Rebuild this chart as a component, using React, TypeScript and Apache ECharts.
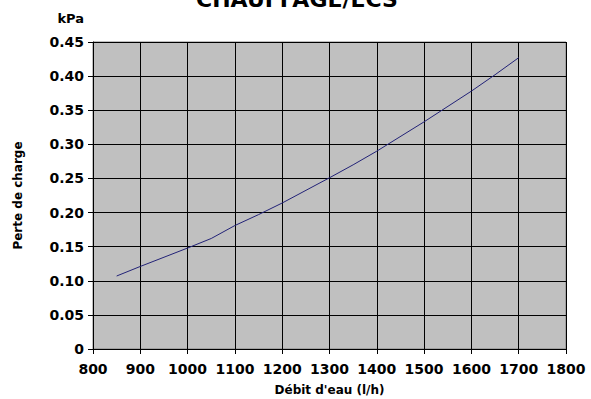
import React, { useEffect, useRef } from "react";
import * as echarts from "echarts";

const flowRates = [850, 900, 1000, 1050, 1100, 1150, 1200, 1300, 1350, 1400, 1500, 1600, 1650, 1700];
const pressureLoss = [0.107, 0.121, 0.148, 0.162, 0.181, 0.197, 0.214, 0.251, 0.27, 0.29, 0.333, 0.378, 0.402, 0.427];

const titleText = "CHAUFFAGE/ECS";
const xName = "Débit d'eau (l/h)";
const yName = "Perte de charge";
const unitLabel = "kPa";

const FONT = "DejaVu Sans";

export default function App() {
  const ref = useRef<HTMLDivElement>(null);
  useEffect(() => {
    if (!ref.current) return;
    const chart = echarts.init(ref.current, undefined, { renderer: "svg" });
    chart.setOption({
      animation: false,
      backgroundColor: "#ffffff",
      title: {
        text: titleText,
        left: 292,
        top: -17,
        textAlign: "center",
        textStyle: { fontFamily: FONT, fontSize: 22, fontWeight: "bold", color: "#000" },
      },
      graphic: [
        {
          type: "text",
          right: 591 - 84,
          top: 12,
          style: { text: unitLabel, font: `bold 13px ${FONT}`, fill: "#000" },
        },
      ],
      grid: {
        left: 93,
        top: 42,
        width: 473,
        height: 307,
        containLabel: false,
        outerBoundsMode: "none",
        show: true,
        backgroundColor: "#c0c0c0",
        borderColor: "#808080",
        borderWidth: 1,
      },
      xAxis: {
        type: "value",
        min: 800,
        max: 1800,
        interval: 100,
        name: xName,
        nameLocation: "middle",
        nameGap: 35,
        nameTextStyle: { fontFamily: FONT, fontSize: 12, fontWeight: "bold", color: "#000" },
        axisLine: { show: true, onZero: false, lineStyle: { color: "#000", width: 1 } },
        axisTick: { show: true, length: 5, lineStyle: { color: "#000" } },
        axisLabel: {
          fontFamily: FONT,
          fontSize: 14,
          fontWeight: "bold",
          color: "#000",
          margin: 13,
          formatter: (v: number) => String(v),
        },
        splitLine: { show: true, lineStyle: { color: "#000", width: 1 } },
      },
      yAxis: {
        type: "value",
        min: 0,
        max: 0.45,
        interval: 0.05,
        name: yName,
        nameLocation: "middle",
        nameRotate: 90,
        nameGap: 69,
        nameTextStyle: { fontFamily: FONT, fontSize: 12, fontWeight: "bold", color: "#000" },
        axisLine: { show: true, lineStyle: { color: "#000", width: 1 } },
        axisTick: { show: true, length: 5, lineStyle: { color: "#000" } },
        axisLabel: {
          fontFamily: FONT,
          fontSize: 14,
          fontWeight: "bold",
          color: "#000",
          margin: 9,
          formatter: (v: number) => (v === 0 ? "0" : v.toFixed(2)),
        },
        splitLine: { show: true, lineStyle: { color: "#000", width: 1 } },
      },
      series: [
        {
          type: "line",
          data: flowRates.map((x, i) => [x, pressureLoss[i]]),
          showSymbol: false,
          lineStyle: { color: "#222277", width: 1 },
          itemStyle: { color: "#222277" },
        },
      ],
    });
    return () => chart.dispose();
  }, []);
  return <div ref={ref} style={{ position: "fixed", left: 0, top: 0, width: 591, height: 399 }} />;
}
